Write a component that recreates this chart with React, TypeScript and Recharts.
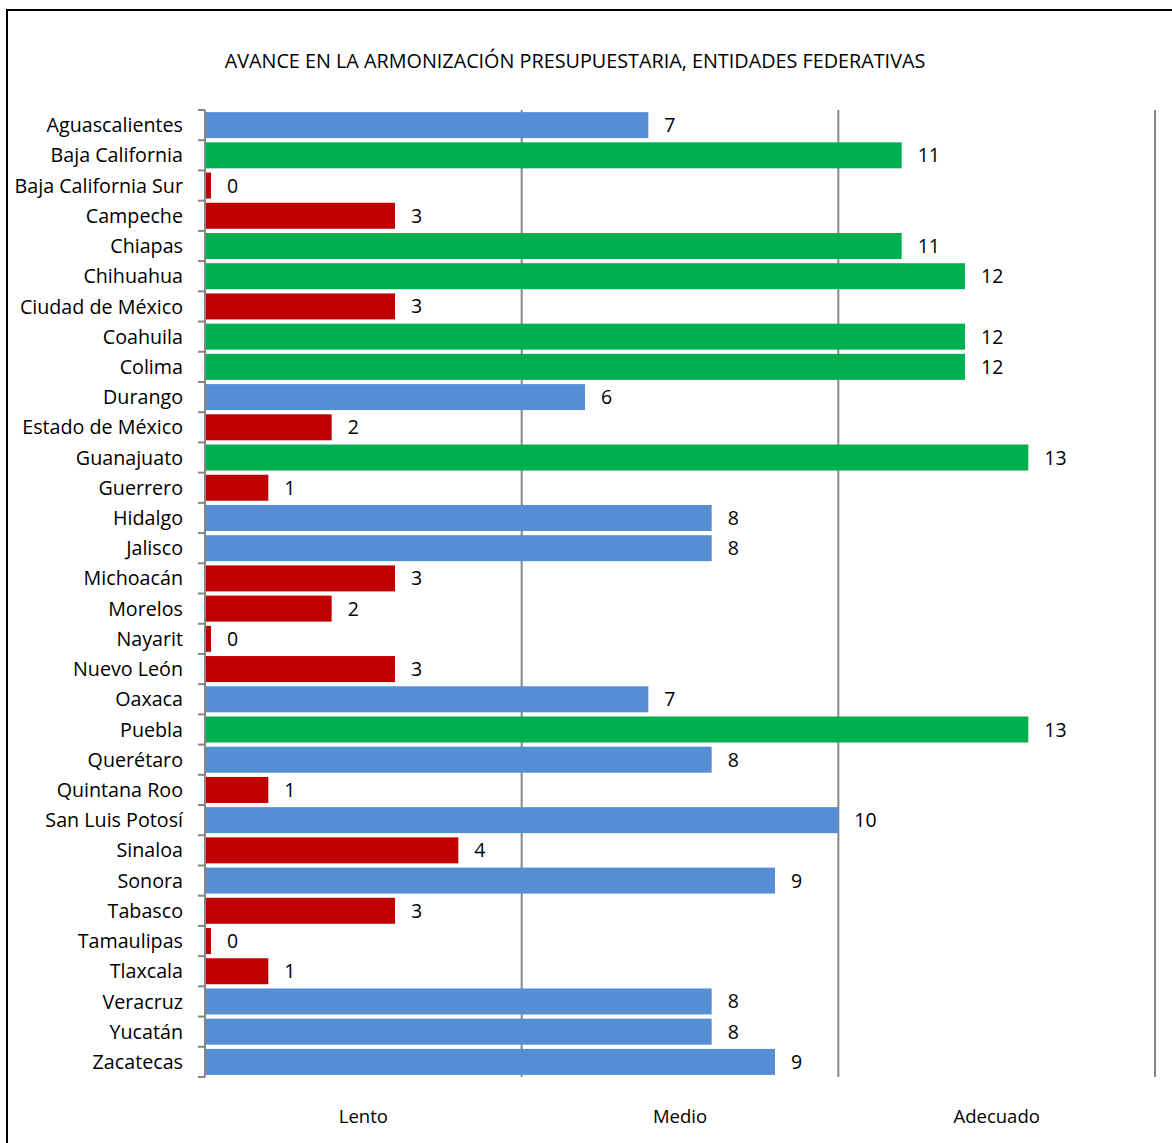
import { BarChart, Bar, XAxis, YAxis, Cell, LabelList, CartesianGrid } from "recharts";

const states = [
  "Aguascalientes", "Baja California", "Baja California Sur", "Campeche", "Chiapas",
  "Chihuahua", "Ciudad de México", "Coahuila", "Colima", "Durango",
  "Estado de México", "Guanajuato", "Guerrero", "Hidalgo", "Jalisco",
  "Michoacán", "Morelos", "Nayarit", "Nuevo León", "Oaxaca",
  "Puebla", "Querétaro", "Quintana Roo", "San Luis Potosí", "Sinaloa",
  "Sonora", "Tabasco", "Tamaulipas", "Tlaxcala", "Veracruz",
  "Yucatán", "Zacatecas",
];
const values = [
  7, 11, 0, 3, 11, 12, 3, 12, 12, 6,
  2, 13, 1, 8, 8, 3, 2, 0, 3, 7,
  13, 8, 1, 10, 4, 9, 3, 0, 1, 8,
  8, 9,
];
const levelTicks = [2.5, 7.5, 12.5];
const levelNames = ["Lento", "Medio", "Adecuado"];
const gridValues = [5, 10, 15];

const data = states.map((name, i) => ({ name, value: values[i] }));

const FONT = "'Open Sans', Lato, sans-serif";
const AXIS_X = 205;
const PLOT_TOP = 110;
const PLOT_BOTTOM = 1077;
const X_AXIS_H = 60;
const BAND = (PLOT_BOTTOM - PLOT_TOP) / states.length;

function colorFor(v: number) {
  if (v <= 4) return "#C00000";
  if (v <= 10) return "#558ED5";
  return "#00B050";
}

function BarShape(props: any) {
  const { x, y, width, height, fill } = props;
  return <rect x={x} y={y} width={Math.max(width, 6)} height={height} fill={fill} />;
}

function ValueLabel(props: any) {
  const { x, y, width, height, value } = props;
  return (
    <text
      x={x + Math.max(width, 6) + 16}
      y={y + height / 2}
      dy="0.36em"
      fontSize={19.5}
      fontFamily={FONT}
      fill="#000"
    >
      {value}
    </text>
  );
}

function StateTick(props: any) {
  const { y, payload, index } = props;
  const top = y - BAND / 2;
  return (
    <g>
      <line x1={AXIS_X - 7} x2={AXIS_X} y1={top} y2={top} stroke="#868686" strokeWidth={2} />
      {index === states.length - 1 && (
        <line x1={AXIS_X - 7} x2={AXIS_X} y1={top + BAND} y2={top + BAND} stroke="#868686" strokeWidth={2} />
      )}
      <text x={183} y={y} dy="0.36em" textAnchor="end" fontSize={19.7} fontFamily={FONT} fill="#000">
        {payload.value}
      </text>
    </g>
  );
}

function LevelTick(props: any) {
  const { x, y, payload } = props;
  const i = levelTicks.indexOf(payload.value);
  return (
    <text x={x} y={y + 38} textAnchor="middle" fontSize={18.5} fontFamily={FONT} fill="#000">
      {levelNames[i]}
    </text>
  );
}

export default function App() {
  return (
    <div style={{ position: "absolute", left: 0, top: 0, width: 1172, height: 1143, overflow: "hidden", background: "#fff" }}>
      <div
        style={{
          position: "absolute",
          left: 6,
          top: 9,
          width: 1200,
          height: 1200,
          borderLeft: "2px solid #000",
          borderTop: "2px solid #000",
        }}
      />
      <div
        style={{
          position: "absolute",
          left: 0,
          top: 47,
          width: 1150,
          textAlign: "center",
          fontFamily: FONT,
          fontSize: 19.8,
          color: "#000",
        }}
      >
        AVANCE EN LA ARMONIZACIÓN PRESUPUESTARIA, ENTIDADES FEDERATIVAS
      </div>
      <div style={{ position: "absolute", left: 0, top: 0 }}>
        <BarChart
          width={1172}
          height={1143}
          data={data}
          layout="vertical"
          margin={{ top: PLOT_TOP, right: 17, bottom: 1143 - PLOT_BOTTOM - X_AXIS_H, left: 0 }}
          barCategoryGap="7%"
        >
          <CartesianGrid horizontal={false} verticalValues={gridValues} stroke="#868686" strokeWidth={2} />
          <XAxis
            type="number"
            domain={[0, 15]}
            ticks={levelTicks}
            tick={<LevelTick />}
            axisLine={false}
            tickLine={false}
            height={X_AXIS_H}
            interval={0}
          />
          <YAxis
            type="category"
            dataKey="name"
            width={AXIS_X}
            axisLine={{ stroke: "#868686", strokeWidth: 2 }}
            tickLine={false}
            tick={<StateTick />}
            interval={0}
          />
          <Bar dataKey="value" isAnimationActive={false} shape={<BarShape />}>
            {data.map((d, i) => (
              <Cell key={i} fill={colorFor(d.value)} />
            ))}
            <LabelList dataKey="value" content={<ValueLabel />} />
          </Bar>
        </BarChart>
      </div>
    </div>
  );
}
